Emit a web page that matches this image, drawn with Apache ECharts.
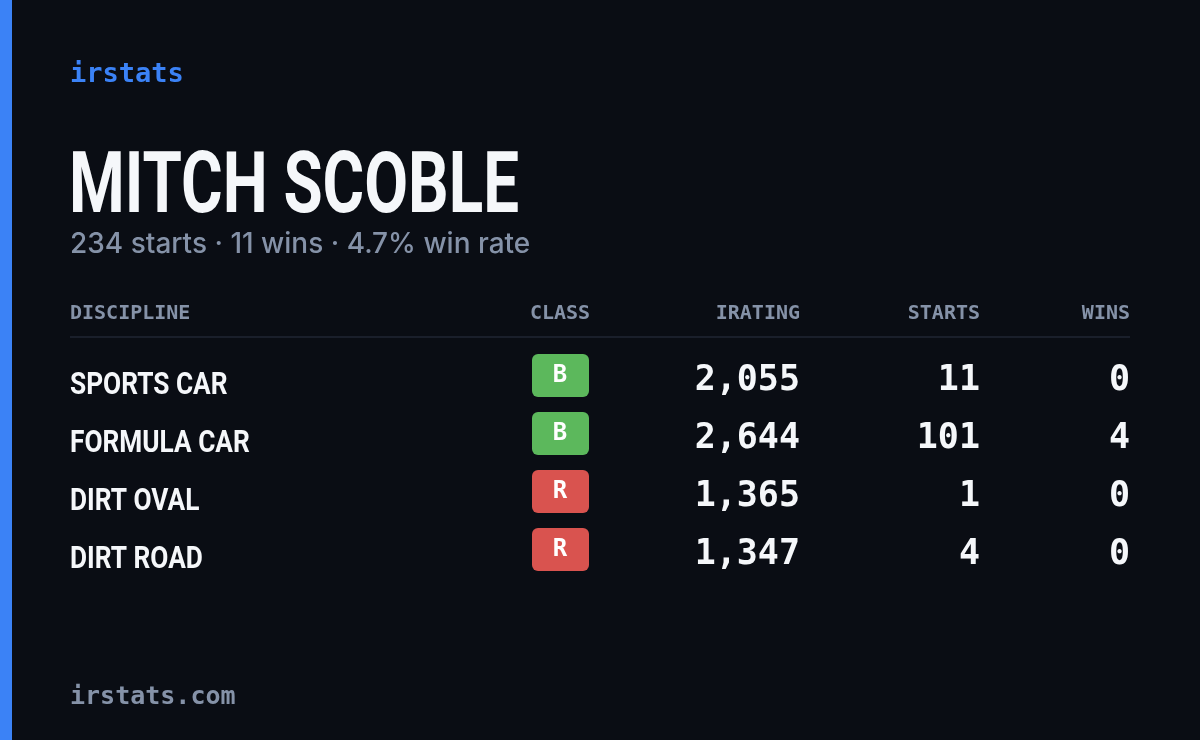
<!DOCTYPE html>
<html>
<head>
<meta charset="utf-8">
<script src="https://cdn.jsdelivr.net/npm/echarts@6/dist/echarts.min.js"></script>
<style>html,body{margin:0;padding:0;background:#0a0d14}#chart{width:1200px;height:740px}</style>
</head>
<body>
<div id="chart"></div>
<script>
var disciplines = ['SPORTS CAR', 'FORMULA CAR', 'DIRT OVAL', 'DIRT ROAD'];
var classes = ['B', 'B', 'R', 'R'];
var iratings = [2055, 2644, 1365, 1347];
var starts = [11, 101, 1, 4];
var wins = [0, 4, 0, 0];
var headers = ['DISCIPLINE', 'CLASS', 'IRATING', 'STARTS', 'WINS'];

var classColors = { B: '#5cb85c', R: '#d9534f' };
var mono = '"DejaVu Sans Mono", monospace';
var narrow = '"Roboto", sans-serif';

var myChart = echarts.init(document.getElementById('chart'));
var rows = disciplines.map(function (d, i) { return [0, i]; });

var option = {
    backgroundColor: '#0a0d14',
    animation: false,
    grid: { left: 0, right: 0, top: 351, height: 232 },
    xAxis: { type: 'value', min: 0, max: 1200, show: false },
    yAxis: { type: 'category', data: disciplines, inverse: true, show: false },
    graphic: [
        { type: 'rect', shape: { x: 0, y: 0, width: 12, height: 740 }, style: { fill: '#3b82f6' } },
        { type: 'text', x: 70, y: 61, style: { text: 'irstats', fill: '#3b82f6', font: 'bold 27px ' + mono } },
        { type: 'text', x: 69, y: 147, scaleX: 0.74, style: { text: 'MITCH SCOBLE', fill: '#f5f7fa', font: 'bold 86px ' + narrow } },
        { type: 'text', x: 70, y: 231, style: { text: '234 starts · 11 wins · 4.7% win rate', fill: '#8592a8', font: '500 28px "Inter", sans-serif' } },
        { type: 'text', x: 70, y: 304, style: { text: headers[0], fill: '#8592a8', font: 'bold 20px ' + mono } },
        { type: 'text', x: 560, y: 304, style: { text: headers[1], fill: '#8592a8', font: 'bold 20px ' + mono, textAlign: 'center' } },
        { type: 'text', x: 800, y: 304, style: { text: headers[2], fill: '#8592a8', font: 'bold 20px ' + mono, textAlign: 'right' } },
        { type: 'text', x: 980, y: 304, style: { text: headers[3], fill: '#8592a8', font: 'bold 20px ' + mono, textAlign: 'right' } },
        { type: 'text', x: 1130, y: 304, style: { text: headers[4], fill: '#8592a8', font: 'bold 20px ' + mono, textAlign: 'right' } },
        { type: 'rect', shape: { x: 70, y: 336, width: 1060, height: 2 }, style: { fill: '#1a1f2b' } },
        { type: 'text', x: 70, y: 685, style: { text: 'irstats.com', fill: '#8592a8', font: 'bold 25px ' + mono } }
    ],
    series: [{
        type: 'custom',
        data: rows,
        renderItem: function (params, api) {
            var i = api.value(1);
            var c = function (x) { return api.coord([x, i]); };
            var cls = classes[i];
            var fmt = function (v) { return v.toLocaleString('en-US'); };
            var badge = c(560);
            return {
                type: 'group',
                children: [
                    { type: 'text', x: c(70)[0], y: c(70)[1] + 6, scaleX: 0.82, style: { text: disciplines[i], fill: '#f5f7fa', font: 'bold 32px ' + narrow, textVerticalAlign: 'middle' } },
                    { type: 'rect', shape: { x: badge[0] - 28, y: badge[1] - 26, width: 57, height: 43, r: 6 }, style: { fill: classColors[cls] } },
                    { type: 'text', x: badge[0], y: badge[1] - 4, style: { text: cls, fill: '#ffffff', font: 'bold 24px ' + mono, textAlign: 'center', textVerticalAlign: 'middle' } },
                    { type: 'text', x: c(800)[0], y: c(800)[1] + 1, style: { text: fmt(iratings[i]), fill: '#f5f7fa', font: 'bold 35px ' + mono, textAlign: 'right', textVerticalAlign: 'middle' } },
                    { type: 'text', x: c(980)[0], y: c(980)[1] + 1, style: { text: fmt(starts[i]), fill: '#f5f7fa', font: 'bold 35px ' + mono, textAlign: 'right', textVerticalAlign: 'middle' } },
                    { type: 'text', x: c(1130)[0], y: c(1130)[1] + 1, style: { text: fmt(wins[i]), fill: '#f5f7fa', font: 'bold 35px ' + mono, textAlign: 'right', textVerticalAlign: 'middle' } }
                ]
            };
        }
    }]
};
myChart.setOption(option);
window.addEventListener('resize', function () { myChart.resize(); });
</script>
</body>
</html>
